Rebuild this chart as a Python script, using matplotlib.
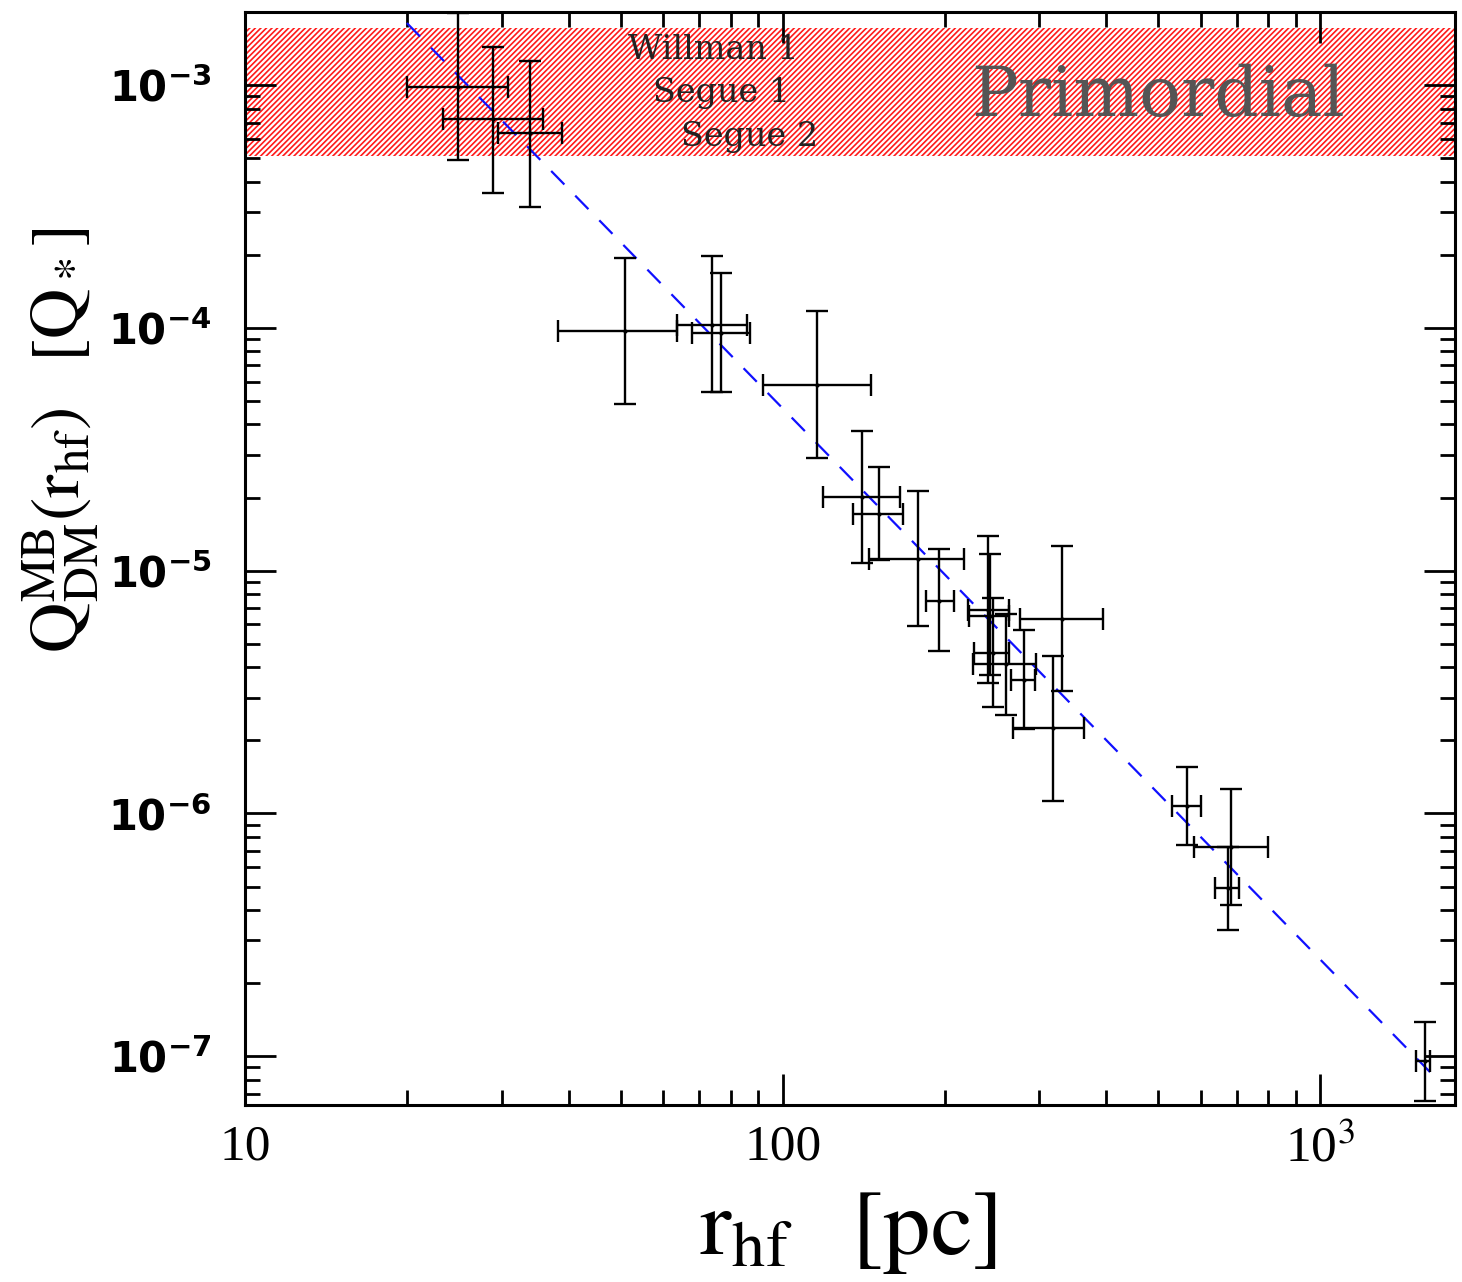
import matplotlib
matplotlib.use("Agg")
import matplotlib.pyplot as plt
import numpy as np

plt.rcParams["mathtext.fontset"] = "stix"
plt.rcParams["hatch.linewidth"] = 1.2

# half-light radius [pc] with lower / upper bounds
r_hf = [24.9, 28.9, 33.9, 50.9, 74.0, 76.7, 115.7, 140.2, 151.0, 178.2, 195.5,
        241.2, 243.0, 245.8, 260.2, 280.6, 330.4, 318.8, 565.4, 682.9, 673.2, 1564]
r_lo = [20.0, 23.3, 29.5, 38.2, 63.5, 67.9, 91.9, 118.6, 135.4, 144.6, 184.6,
        220.8, 222.0, 227.1, 225.5, 265.8, 276.7, 267.7, 530.1, 583.3, 635.6, 1509]
r_hi = [30.9, 35.9, 38.9, 63.5, 85.9, 86.8, 145.9, 165.2, 167.1, 217.6, 207.9,
        263.2, 263.6, 263.9, 295.9, 295.0, 393.8, 364.0, 600.1, 799.1, 704.6, 1598]

# Q_DM^MB(r_hf) in units of Q_* with lower / upper bounds
q = [9.78e-4, 7.22e-4, 6.33e-4, 9.66e-5, 1.03e-4, 9.54e-5, 5.79e-5, 2.01e-5,
     1.71e-5, 1.117e-5, 7.52e-6, 6.91e-6, 6.53e-6, 4.58e-6, 4.13e-6, 3.54e-6,
     6.33e-6, 2.24e-6, 1.07e-6, 7.29e-7, 4.94e-7, 9.56e-8]
q_lo = [4.91e-4, 3.60e-4, 3.14e-4, 4.85e-5, 5.45e-5, 5.45e-5, 2.91e-5, 1.075e-5,
        1.11e-5, 5.90e-6, 4.65e-6, 3.43e-6, 3.70e-6, 2.74e-6, 2.55e-6, 2.22e-6,
        3.19e-6, 1.12e-6, 7.38e-7, 4.18e-7, 3.31e-7, 6.55e-8]
q_hi = [1.98e-3, 1.44e-3, 1.26e-3, 1.94e-4, 1.97e-4, 1.68e-4, 1.17e-4, 3.77e-5,
        2.67e-5, 2.12e-5, 1.23e-5, 1.384e-5, 1.175e-5, 7.72e-6, 6.65e-6, 5.68e-6,
        1.26e-5, 4.47e-6, 1.557e-6, 1.256e-6, 7.29e-7, 1.384e-7]

# power-law fit endpoints
fit_r = [20, 1600]
fit_q = [1.80e-3, 8.6e-8]

# primordial band
band_lo = 5.1e-4
band_hi = 1.72e-3
band_names = ["Willman 1", "Segue 1", "Segue 2"]

xtick_vals = [10, 100, 1000]
xtick_labels = ["10", "100", "10$^3$"]
ytick_vals = [1e-7, 1e-6, 1e-5, 1e-4, 1e-3]
ytick_labels = [r"$\mathbf{10^{-7}}$", r"$\mathbf{10^{-6}}$", r"$\mathbf{10^{-5}}$",
                r"$\mathbf{10^{-4}}$", r"$\mathbf{10^{-3}}$"]

fig = plt.figure(figsize=(14.62, 12.82), dpi=100)
ax = fig.add_axes([0.1676, 0.1381, 0.8276, 0.8526])
ax.set_xscale("log")
ax.set_yscale("log")
ax.set_xlim(10, 1780)
ax.set_ylim(6.3e-8, 2.0e-3)

ax.axhspan(band_lo, band_hi, facecolor="none", edgecolor="#ff1a1a",
           hatch="//////", linewidth=0, zorder=1)

r = np.array(r_hf)
qq = np.array(q)
xerr = [r - np.array(r_lo), np.array(r_hi) - r]
yerr = [qq - np.array(q_lo), np.array(q_hi) - qq]
ax.errorbar(r, qq, xerr=xerr, yerr=yerr, fmt=".", color="black", ms=4,
            elinewidth=1.7, capsize=8, capthick=1.7, zorder=3)

ax.plot(fit_r, fit_q, color="#1010ff", lw=1.6, dashes=(8.5, 7), zorder=2)

# labels inside the band
for name, (tx, ty) in zip(band_names, [(0.387, 0.965), (0.394, 0.926), (0.417, 0.886)]):
    ax.text(tx, ty, name, transform=ax.transAxes, ha="center", va="center",
            family="DejaVu Serif", fontsize=24, color="#222222", zorder=4)
ax.text(0.7545, 0.922, "Primordial", transform=ax.transAxes, ha="center",
        va="center", family="DejaVu Serif", fontsize=50, color="#555555", zorder=4)

ax.set_xticks(xtick_vals)
ax.set_xticklabels(xtick_labels, family="Liberation Serif", fontsize=37)
ax.set_yticks(ytick_vals)
ax.set_yticklabels(ytick_labels, fontsize=30, math_fontfamily="dejavusans")
ax.xaxis.set_minor_formatter(matplotlib.ticker.NullFormatter())
ax.yaxis.set_minor_formatter(matplotlib.ticker.NullFormatter())
ax.yaxis.set_minor_locator(matplotlib.ticker.LogLocator(base=10, subs=np.arange(2, 10)))

ax.tick_params(which="both", direction="in", top=True, right=True, width=2)
ax.tick_params(which="major", length=22, pad=14)
ax.tick_params(axis="y", which="major", pad=24)
ax.tick_params(which="minor", length=11)
for s in ax.spines.values():
    s.set_linewidth(2.2)

ax.set_xlabel(r"$\mathrm{r_{hf}}$  $[\mathrm{pc}]$", fontsize=68)
ax.xaxis.set_label_coords(0.498, -0.072)
ax.set_ylabel(r"$\mathrm{Q^{MB}_{DM}(r_{hf})}$  $[\mathrm{Q_*}]$", fontsize=50)
ax.yaxis.set_label_coords(-0.118, 0.608)

fig.savefig("out.png", dpi=100)
